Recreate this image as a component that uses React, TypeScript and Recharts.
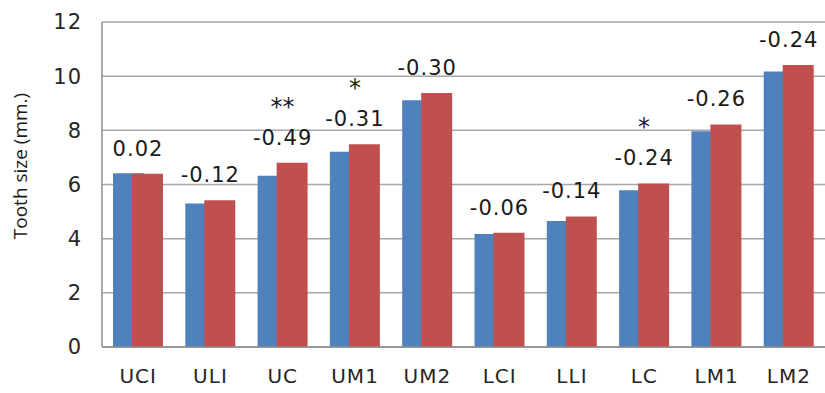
import { BarChart, Bar, XAxis, YAxis, CartesianGrid, LabelList } from "recharts";

const teeth = ["UCI", "ULI", "UC", "UM1", "UM2", "LCI", "LLI", "LC", "LM1", "LM2"];
const blueValues = [6.42, 5.3, 6.32, 7.21, 9.11, 4.17, 4.65, 5.79, 7.97, 10.17];
const redValues = [6.4, 5.42, 6.8, 7.49, 9.38, 4.22, 4.82, 6.04, 8.22, 10.41];
const diffLabels = ["0.02", "-0.12", "-0.49", "-0.31", "-0.30", "-0.06", "-0.14", "-0.24", "-0.26", "-0.24"];
const stars = ["", "", "**", "*", "", "", "", "*", "", ""];
const yTicks = [0, 2, 4, 6, 8, 10, 12];

const data = teeth.map((name, i) => ({
  name,
  blue: blueValues[i],
  red: redValues[i],
}));

const FONT = "'DejaVu Sans', sans-serif";

function DiffLabel(props: any) {
  const { x, y, width, index } = props;
  const cx = x + width - 25;
  const base = y - 18;
  return (
    <g>
      <text
        x={cx}
        y={base}
        textAnchor="middle"
        fontFamily={FONT}
        fontSize={21}
        letterSpacing={1}
        fill="#1a1a1a"
      >
        {diffLabels[index]}
      </text>
      {stars[index] ? (
        <text
          x={cx}
          y={base - 30}
          textAnchor="middle"
          fontFamily={FONT}
          fontSize={24}
          fill="#1a1a1a"
        >
          {stars[index]}
        </text>
      ) : null}
    </g>
  );
}

function YLabel() {
  return (
    <text
      x={0}
      y={0}
      transform="translate(27,166) rotate(-90)"
      textAnchor="middle"
      fontFamily="'Open Sans', sans-serif"
      fontSize={19}
      fill="#1a1a1a"
    >
      Tooth size (mm.)
    </text>
  );
}

export default function App() {
  return (
    <div style={{ position: "absolute", left: 0, top: 0, background: "#fff" }}>
      <BarChart
        width={825}
        height={393}
        data={data}
        margin={{ top: 22, right: 0, left: 0, bottom: 0 }}
        barSize={31}
        barGap={-12}
      >
        <CartesianGrid vertical={false} stroke="#a6a6a6" strokeWidth={1.5} />
        <XAxis
          dataKey="name"
          height={46}
          tickLine={false}
          axisLine={{ stroke: "#8c8c8c", strokeWidth: 1.5 }}
          tickMargin={16}
          tick={{ fontFamily: FONT, fontSize: 20, fill: "#262626", letterSpacing: 1 }}
          interval={0}
        />
        <YAxis
          width={102}
          domain={[0, 12]}
          ticks={yTicks}
          tickLine={false}
          tickSize={0}
          tickMargin={20}
          axisLine={{ stroke: "#8c8c8c", strokeWidth: 1.5 }}
          tick={{ fontFamily: FONT, fontSize: 21, fill: "#262626", letterSpacing: 1 }}
          label={<YLabel />}
        />
        <Bar dataKey="blue" fill="#4f81bd" isAnimationActive={false} />
        <Bar dataKey="red" fill="#c0504d" isAnimationActive={false}>
          <LabelList dataKey="red" content={<DiffLabel />} />
        </Bar>
      </BarChart>
    </div>
  );
}
